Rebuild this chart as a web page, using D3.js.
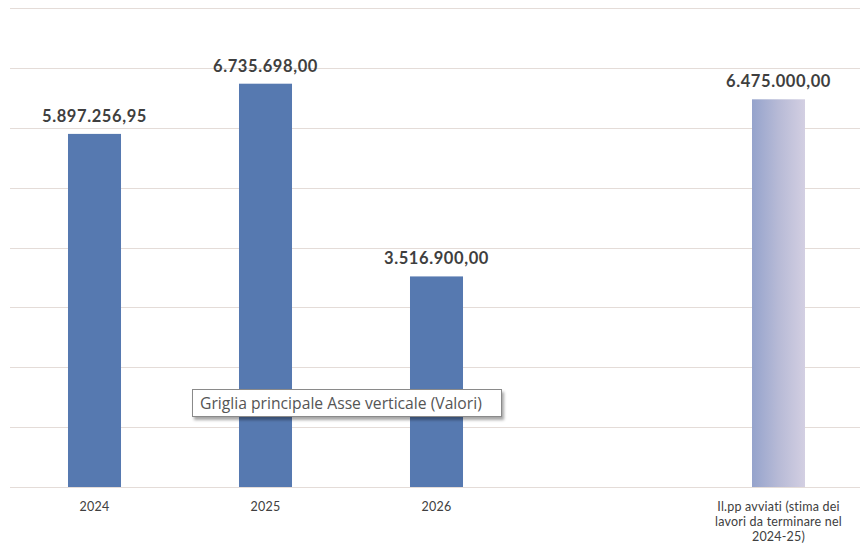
<!DOCTYPE html>
<html>
<head>
<meta charset="utf-8">
<script src="https://cdn.jsdelivr.net/npm/d3@7"></script>
<style>
  html, body { margin: 0; padding: 0; background: #ffffff; }
  svg { display: block; }
</style>
</head>
<body>
<svg id="chart" width="860" height="555"></svg>
<script>
// ---- data ----
const categories = ["2024", "2025", "2026", "", "Il.pp avviati (stima dei lavori da terminare nel 2024-25)"];
const categoryLines = [["2024"], ["2025"], ["2026"], [], ["Il.pp avviati (stima dei", "lavori da terminare nel", "2024-25)"]];
const values = [5897256.95, 6735698.00, 3516900.00, null, 6475000.00];
const valueLabels = ["5.897.256,95", "6.735.698,00", "3.516.900,00", "", "6.475.000,00"];
const gridTicks = [0, 1000000, 2000000, 3000000, 4000000, 5000000, 6000000, 7000000, 8000000];
const tooltipText = "Griglia principale Asse verticale (Valori)";

// ---- layout ----
const svg = d3.select("#chart");
const plot = { left: 9, right: 864, top: 8, bottom: 487 };

const x = d3.scaleBand()
  .domain(categories)
  .range([plot.left, plot.right])
  .paddingInner(0.69)
  .paddingOuter(0.345);

const y = d3.scaleLinear()
  .domain([0, 8000000])
  .range([plot.bottom, plot.top]);

const defs = svg.append("defs");
const grad = defs.append("linearGradient").attr("id", "lastGrad")
  .attr("x1", "0%").attr("x2", "100%").attr("y1", "0%").attr("y2", "0%");
grad.append("stop").attr("offset", "0%").attr("stop-color", "#95a3cc");
grad.append("stop").attr("offset", "50%").attr("stop-color", "#b7bad6");
grad.append("stop").attr("offset", "100%").attr("stop-color", "#d3cfe2");

const shadow = defs.append("filter").attr("id", "shadow")
  .attr("x", "-5%").attr("y", "-20%").attr("width", "115%").attr("height", "160%");
shadow.append("feDropShadow").attr("dx", 2).attr("dy", 3).attr("stdDeviation", 1.5)
  .attr("flood-color", "#000").attr("flood-opacity", 0.35);

// gridlines
svg.append("g").selectAll("line")
  .data(gridTicks)
  .join("line")
  .attr("x1", 10).attr("x2", 860)
  .attr("y1", d => Math.round(y(d)) + 0.5)
  .attr("y2", d => Math.round(y(d)) + 0.5)
  .attr("stroke", "#e4dcd8")
  .attr("stroke-width", 1);

// bars
const data = categories.map((c, i) => ({ c, v: values[i], label: valueLabels[i], i }));
svg.append("g").selectAll("rect")
  .data(data.filter(d => d.v !== null))
  .join("rect")
  .attr("x", d => x(d.c))
  .attr("width", x.bandwidth())
  .attr("y", d => y(d.v))
  .attr("height", d => y(0) - y(d.v))
  .attr("fill", d => d.i === 4 ? "url(#lastGrad)" : "#5679b0");

// value labels
svg.append("g").selectAll("text")
  .data(data.filter(d => d.v !== null))
  .join("text")
  .attr("x", d => x(d.c) + x.bandwidth() / 2)
  .attr("y", d => y(d.v) - 12)
  .attr("text-anchor", "middle")
  .attr("font-family", "Lato, 'Open Sans', sans-serif")
  .attr("font-weight", "bold")
  .attr("font-size", 16.5)
  .attr("letter-spacing", 0.6)
  .attr("fill", "#3f3f3f")
  .text(d => d.label);

// category axis labels
const axisG = svg.append("g");
categories.forEach((c, i) => {
  const cx = x(c) + x.bandwidth() / 2;
  const t = axisG.append("text")
    .attr("x", cx)
    .attr("y", 511)
    .attr("text-anchor", "middle")
    .attr("font-family", "Lato, 'Open Sans', sans-serif")
    .attr("font-size", 12.5)
    .attr("letter-spacing", 0.2)
    .attr("fill", "#404040");
  categoryLines[i].forEach((line, k) => {
    t.append("tspan").attr("x", cx).attr("dy", k === 0 ? 0 : 15).text(line);
  });
});

// tooltip
const tip = svg.append("g").attr("transform", "translate(192,389)");
tip.append("rect")
  .attr("x", 0.5).attr("y", 0.5)
  .attr("width", 309).attr("height", 27)
  .attr("fill", "#ffffff")
  .attr("stroke", "#8a8a8a")
  .attr("stroke-width", 1)
  .attr("filter", "url(#shadow)");
tip.append("text")
  .attr("x", 8).attr("y", 19.5)
  .attr("font-family", "'Open Sans', Lato, sans-serif")
  .attr("font-size", 15.7)
  .attr("fill", "#555555")
  .text(tooltipText);
</script>
</body>
</html>
